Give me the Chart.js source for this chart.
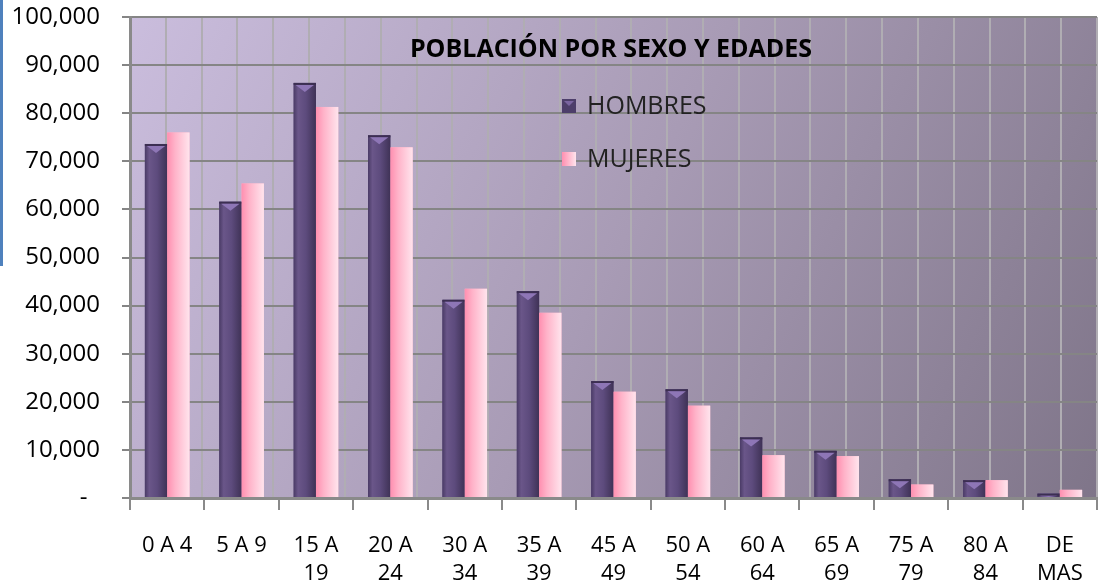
<!DOCTYPE html>
<html>
<head>
<meta charset="utf-8">
<script src="https://cdn.jsdelivr.net/npm/chart.js@4/dist/chart.umd.min.js"></script>
<style>
  html, body { margin: 0; padding: 0; background: #fff; }
  #wrap { position: relative; width: 1099px; height: 586px; }
  #blueEdge { position: absolute; left: 0; top: 0; width: 3px; height: 266px; background: #4f81bd; }
</style>
</head>
<body>
<div id="wrap">
  <canvas id="myChart" width="1099" height="586"></canvas>
  <div id="blueEdge"></div>
</div>
<script>
// data
const categories = ['0 A 4', '5 A 9', '15 A 19', '20 A 24', '30 A 34', '35 A 39', '45 A 49',
  '50 A 54', '60 A 64', '65 A 69', '75 A 79', '80 A 84', 'DE MAS'];
const hombres = [73600, 61600, 86300, 75400, 41200, 43000, 24300, 22600, 12600, 9800, 3900, 3700, 900];
const mujeres = [76000, 65400, 81300, 72900, 43500, 38500, 22100, 19200, 8900, 8700, 2800, 3700, 1700];
const yTicks = [0, 10000, 20000, 30000, 40000, 50000, 60000, 70000, 80000, 90000, 100000];
const chartTitle = 'POBLACIÓN POR SEXO Y EDADES';

const FONT = "'Open Sans', 'DejaVu Sans', sans-serif";

// plot area background + bar shading + title/legend inside the plot
const decoPlugin = {
  id: 'deco',
  beforeDraw(chart) {
    const a = chart.chartArea;
    const c = chart.ctx;
    const g = c.createLinearGradient(a.left, a.top, a.right, a.bottom);
    g.addColorStop(0, '#cabddd');
    g.addColorStop(0.5, '#a89bb5');
    g.addColorStop(1, '#7f7589');
    c.save();
    c.fillStyle = g;
    c.fillRect(a.left, a.top, a.right - a.left, a.bottom - a.top);
    c.restore();
  },
  afterDatasetsDraw(chart) {
    const c = chart.ctx;
    c.save();
    chart.data.datasets.forEach((ds, di) => {
      chart.getDatasetMeta(di).data.forEach(bar => {
        const l = bar.x - bar.width / 2, r = bar.x + bar.width / 2;
        const t = bar.y, b = bar.base, w = r - l;
        const g = c.createLinearGradient(l, 0, r, 0);
        if (di === 0) {
          g.addColorStop(0, '#4a3b66');
          g.addColorStop(0.2, '#6a5689');
          g.addColorStop(0.55, '#5d4b7d');
          g.addColorStop(1, '#3f3256');
        } else {
          g.addColorStop(0, '#ff8fb0');
          g.addColorStop(0.35, '#ffb3c9');
          g.addColorStop(1, '#ffe4ed');
        }
        c.fillStyle = g;
        c.fillRect(l, t, w, b - t);
        if (di === 0) {
          // bevel cap at top
          const capH = Math.min(9, b - t);
          c.fillStyle = '#3c2f52';
          c.fillRect(l, t, w, 2);
          c.fillStyle = '#8e76b6';
          c.beginPath();
          c.moveTo(l + 2, t + 2);
          c.lineTo(r - 2, t + 2);
          c.lineTo(bar.x, t + capH);
          c.closePath();
          c.fill();
        }
      });
    });

    const a = chart.chartArea;
    c.fillStyle = '#000';
    c.font = 'bold 25px ' + FONT;
    c.textAlign = 'center';
    c.textBaseline = 'middle';
    c.fillText(chartTitle, 611, a.top + 33);

    // legend
    const items = [{ y: a.top + 89 }, { y: a.top + 142 }];
    c.font = '25px ' + FONT;
    c.textAlign = 'left';
    chart.data.datasets.forEach((ds, i) => {
      const y = items[i].y, x = 562;
      const g = c.createLinearGradient(x, 0, x + 14, 0);
      if (i === 0) {
        c.fillStyle = '#4d3e6a';
        c.fillRect(x, y - 7, 14, 14);
        c.fillStyle = '#7a64a0';
        c.beginPath();
        c.moveTo(x + 2, y - 5); c.lineTo(x + 12, y - 5); c.lineTo(x + 7, y); c.closePath();
        c.fill();
      } else {
        g.addColorStop(0, '#ff8fb0');
        g.addColorStop(1, '#ffe4ed');
        c.fillStyle = g;
        c.fillRect(x, y - 7, 14, 14);
      }
      c.fillStyle = '#222';
      c.fillText(ds.label, x + 25, y + 1);
    });
    c.restore();
  }
};

const ctx = document.getElementById('myChart');

new Chart(ctx, {
  type: 'bar',
  data: {
    labels: categories,
    datasets: [
      { label: 'HOMBRES', data: hombres, backgroundColor: '#5d4b7d' },
      { label: 'MUJERES', data: mujeres, backgroundColor: '#ffb3c9' }
    ]
  },
  options: {
    responsive: false,
    animation: false,
    layout: { padding: { top: 17, right: 2, left: 0, bottom: 0 } },
    datasets: { bar: { categoryPercentage: 0.6, barPercentage: 1.0 } },
    plugins: { legend: { display: false }, tooltip: { enabled: false } },
    scales: {
      x: {
        offset: true,
        grid: { display: true, offset: true, drawOnChartArea: false, color: '#8a8a8a', lineWidth: 2, tickLength: 12 },
        border: { display: true, color: '#8a8a8a', width: 3 },
        ticks: {
          color: '#000', font: { family: FONT, size: 22, lineHeight: 1.25 }, padding: 22, maxRotation: 0, autoSkip: false,
          callback: function (v) {
            const s = this.getLabelForValue(v);
            if (s.length <= 5) return s;
            const k = s.lastIndexOf(' ');
            return [s.slice(0, k), s.slice(k + 1)];
          }
        },
        afterFit: s => { s.height = 88; s.paddingLeft = 0; s.paddingRight = 0; }
      },
      xgrid: {
        type: 'linear', position: 'bottom', min: 0, max: 26,
        display: true,
        ticks: { display: false, stepSize: 1 },
        grid: { color: '#b0adb3', lineWidth: 2, drawTicks: false },
        border: { display: false },
        afterFit: s => { s.height = 0; s.paddingLeft = 0; s.paddingRight = 0; }
      },
      y: {
        min: 0, max: 100000,
        afterBuildTicks: s => { s.ticks = yTicks.map(v => ({ value: v })); },
        grid: { color: '#858585', lineWidth: 2, tickLength: 8 },
        border: { display: true, color: '#8a8a8a', width: 3 },
        ticks: {
          color: '#000', font: { family: FONT, size: 24 }, padding: 22,
          callback: v => v === 0 ? '-  ' : v.toLocaleString('en-US')
        },
        afterFit: s => { s.width = 130; s.paddingTop = 0; s.paddingBottom = 0; }
      }
    }
  },
  plugins: [decoPlugin]
});
</script>
</body>
</html>
